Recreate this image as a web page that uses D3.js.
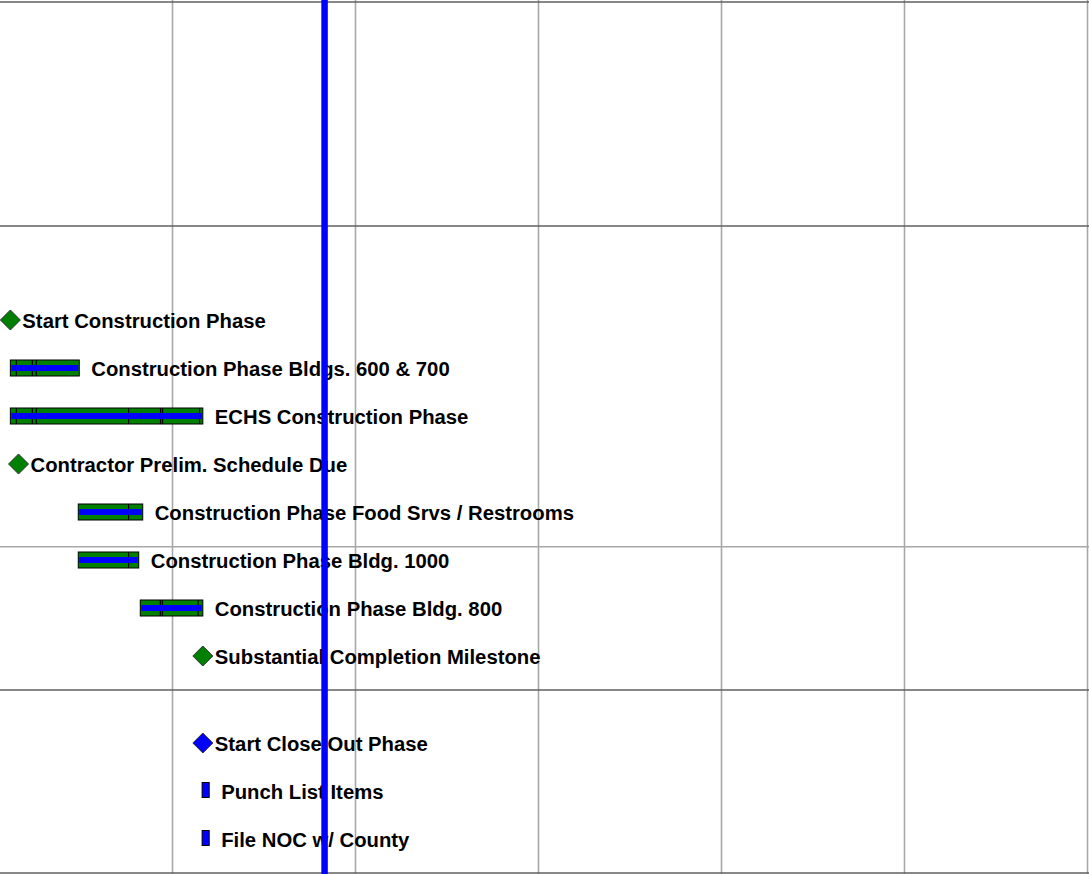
<!DOCTYPE html>
<html>
<head>
<meta charset="utf-8">
<script src="https://cdn.jsdelivr.net/npm/d3@7"></script>
<style>
  html, body { margin: 0; padding: 0; background: #fff; }
  svg { display: block; }
  text { font-family: "Liberation Sans", Arial, sans-serif; font-weight: bold; font-size: 20.3px; fill: #000; }
</style>
</head>
<body>
<svg id="chart" width="1089" height="874"></svg>
<script>
// Schedule rows (top to bottom within each group)
const taskNames = [
  "Start Construction Phase",
  "Construction Phase Bldgs. 600 & 700",
  "ECHS Construction Phase",
  "Contractor Prelim. Schedule Due",
  "Construction Phase Food Srvs / Restrooms",
  "Construction Phase Bldg. 1000",
  "Construction Phase Bldg. 800",
  "Substantial Completion Milestone",
  "Start Close Out Phase",
  "Punch List Items",
  "File NOC w/ County"
];
const taskGroup = [1, 1, 1, 1, 1, 1, 1, 1, 2, 2, 2];
const taskKind = ["milestone", "bar", "bar", "milestone", "bar", "bar", "bar", "milestone", "milestone", "task", "task"];
const taskStart = [
  "2014-06-02T19:30", "2014-06-02T19:30", "2014-06-02T19:30", "2014-06-03T03:00",
  "2014-06-05T09:50", "2014-06-05T09:50", "2014-06-07T18:45", "2014-06-10T04:10",
  "2014-06-10T04:10", "2014-06-10T03:30", "2014-06-10T03:30"
];
const taskEnd = [
  "2014-06-02T19:30", "2014-06-05T10:45", "2014-06-10T04:10", "2014-06-03T03:00",
  "2014-06-07T21:00", "2014-06-07T17:20", "2014-06-10T04:10", "2014-06-10T04:10",
  "2014-06-10T04:10", "2014-06-10T10:00", "2014-06-10T10:00"
];
// Interior split points of the summary bars
const taskSplits = [
  [],
  ["2014-06-03T01:00", "2014-06-03T15:40", "2014-06-03T19:20"],
  ["2014-06-03T01:00", "2014-06-03T15:40", "2014-06-03T19:20", "2014-06-07T08:00", "2014-06-08T13:20", "2014-06-08T15:10", "2014-06-10T01:10"],
  [],
  ["2014-06-07T08:00"],
  ["2014-06-07T08:00"],
  ["2014-06-08T13:10", "2014-06-08T15:00", "2014-06-09T23:50"],
  [], [], [], []
];
const statusDate = "2014-06-14T19:40";
const timeDomain = ["2014-06-02T10:00", "2014-07-14T01:30"];

const W = 1089, H = 874;
const svg = d3.select("#chart");

const x = d3.scaleTime()
  .domain(timeDomain.map(s => new Date(s)))
  .range([0, W]);

// Vertical layout: group separators and row pitch
const groupEdges = [2, 226, 690, 873];
const firstRowOffset = { 1: 94, 2: 53 };
const rowPitch = 48;
const bandLines = [546.7];

const laneIndex = {};
const rows = taskNames.map((name, i) => {
  const g = taskGroup[i];
  laneIndex[g] = (laneIndex[g] ?? -1) + 1;
  return {
    name, group: g, kind: taskKind[i],
    start: new Date(taskStart[i]), end: new Date(taskEnd[i]),
    splits: taskSplits[i].map(s => new Date(s)),
    y: groupEdges[g] + firstRowOffset[g] + laneIndex[g] * rowPitch
  };
});

// Weekly gridlines
const weeks = d3.timeMonday.range(x.domain()[0], x.domain()[1]);
svg.append("g").selectAll("line").data(weeks).join("line")
  .attr("x1", d => Math.round(x(d)) + 0.5).attr("x2", d => Math.round(x(d)) + 0.5)
  .attr("y1", 0).attr("y2", H)
  .attr("stroke", "#a8a8a8").attr("stroke-width", 1.6);

svg.append("g").selectAll("line").data(bandLines).join("line")
  .attr("x1", 0).attr("x2", W).attr("y1", d => d).attr("y2", d => d)
  .attr("stroke", "#a8a8a8").attr("stroke-width", 1.6);

svg.append("g").selectAll("line").data(groupEdges).join("line")
  .attr("x1", 0).attr("x2", W).attr("y1", d => d).attr("y2", d => d)
  .attr("stroke", "#606060").attr("stroke-width", 1.6);

const green = "#008000", blue = "#0000ff";
const barH = 16, stripeH = 6;

const g = svg.append("g");

// Summary bars with progress stripe
const bars = rows.filter(r => r.kind === "bar");
const bg = g.selectAll("g.bar").data(bars).join("g").attr("class", "bar");
bg.append("rect")
  .attr("x", d => x(d.start)).attr("y", d => d.y - barH / 2)
  .attr("width", d => x(d.end) - x(d.start)).attr("height", barH)
  .attr("fill", green).attr("stroke", "#000").attr("stroke-width", 1);
bg.selectAll("line.split").data(d => d.splits.map(s => ({ s, y: d.y }))).join("line")
  .attr("class", "split")
  .attr("x1", d => x(d.s)).attr("x2", d => x(d.s))
  .attr("y1", d => d.y - barH / 2).attr("y2", d => d.y + barH / 2)
  .attr("stroke", "#000").attr("stroke-width", 1.2);
bg.append("rect")
  .attr("x", d => x(d.start) + 1).attr("y", d => d.y - stripeH / 2)
  .attr("width", d => x(d.end) - x(d.start) - 2).attr("height", stripeH)
  .attr("fill", blue);

// Short close-out tasks
const tasks = rows.filter(r => r.kind === "task");
g.selectAll("rect.task").data(tasks).join("rect").attr("class", "task")
  .attr("x", d => x(d.start)).attr("y", d => d.y - 1 - 7.5)
  .attr("width", d => x(d.end) - x(d.start)).attr("height", 15)
  .attr("fill", blue).attr("stroke", "#000").attr("stroke-width", 1);

// Milestones
const ms = rows.filter(r => r.kind === "milestone");
const dr = 10;
g.selectAll("path.ms").data(ms).join("path").attr("class", "ms")
  .attr("d", d => {
    const cx = x(d.start), cy = d.y;
    return `M${cx},${cy - dr}L${cx + dr},${cy}L${cx},${cy + dr}L${cx - dr},${cy}Z`;
  })
  .attr("fill", d => d.group === 2 ? blue : green)
  .attr("stroke", "#333").attr("stroke-width", 1);

// Labels
g.selectAll("text").data(rows).join("text")
  .attr("x", d => d.kind === "milestone" ? x(d.start) + dr + 2 : x(d.end) + 12)
  .attr("y", d => d.y + 8)
  .text(d => d.name);

// Status date line
svg.append("rect")
  .attr("x", x(new Date(statusDate)) - 3).attr("y", 0)
  .attr("width", 6.5).attr("height", H)
  .attr("fill", blue);
</script>
</body>
</html>
